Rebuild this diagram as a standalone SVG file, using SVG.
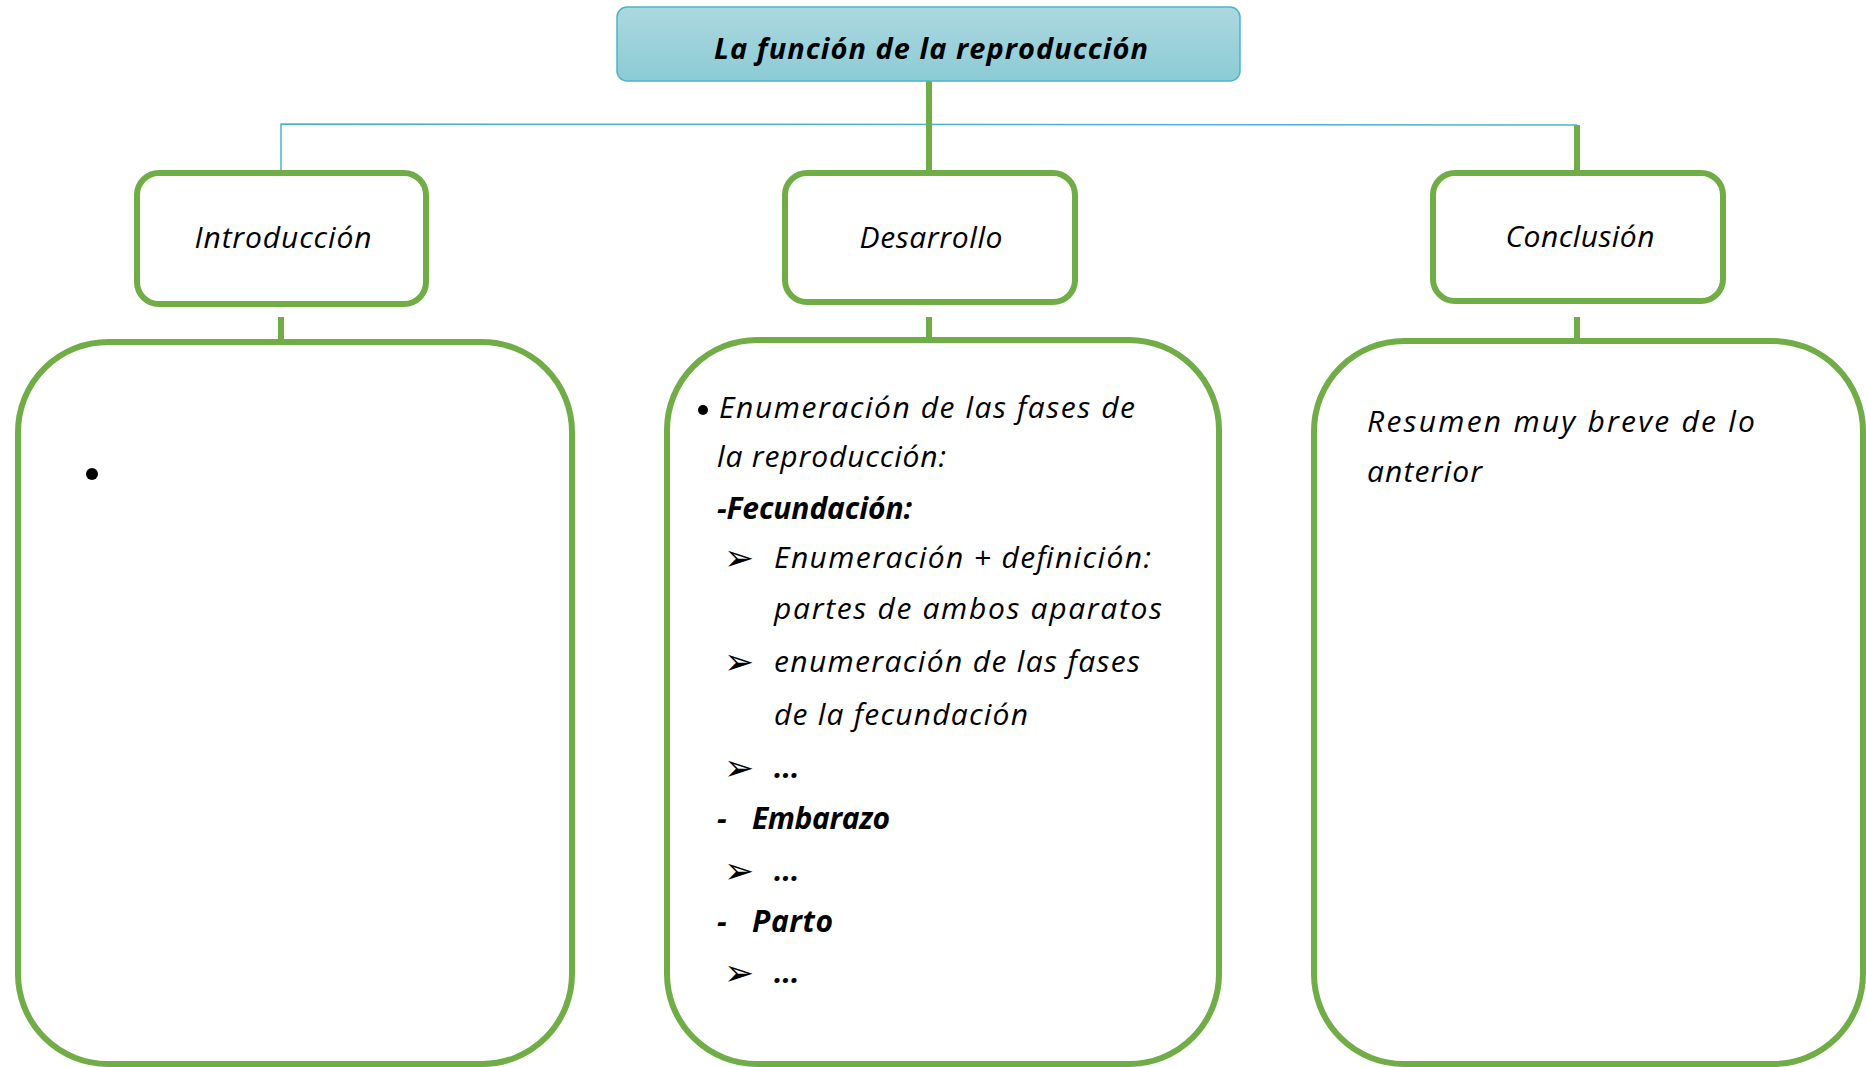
<svg xmlns="http://www.w3.org/2000/svg" width="1866" height="1067" viewBox="0 0 1866 1067">
<defs>
<linearGradient id="tg" x1="0" y1="0" x2="0" y2="1">
<stop offset="0" stop-color="#acd8e0"/>
<stop offset="1" stop-color="#8ccbd5"/>
</linearGradient>
<style>
.box{fill:#ffffff;stroke:#70ad47;stroke-width:6}
.g{stroke:#70ad47;stroke-width:6;fill:none}
.tl{stroke:#4bb5c8;stroke-width:1.5;fill:none}
.t{font-family:"Open Sans","Liberation Sans",sans-serif;font-style:italic;font-size:30px;fill:#000000}
.b{font-weight:bold}
.ar{font-family:"DejaVu Sans",sans-serif;font-size:36px;fill:#000000}
</style>
</defs>
<rect width="1866" height="1067" fill="#ffffff"/>
<g id="connectors">
<polyline class="tl" points="281,177 281,124 1577,125"/>
<line class="g" x1="929" y1="79" x2="929" y2="174"/>
<line class="g" x1="1577" y1="125" x2="1577" y2="176"/>
<line class="g" x1="281" y1="317" x2="281" y2="342"/>
<line class="g" x1="929" y1="317" x2="929" y2="340"/>
<line class="g" x1="1577" y1="317" x2="1577" y2="341"/>
</g>
<g id="title">
<rect x="617" y="7" width="623" height="74" rx="10" fill="url(#tg)" stroke="#4bb5c8" stroke-width="1.5"/>
<text class="t b" x="931" y="59" text-anchor="middle" textLength="434" lengthAdjust="spacing" style="font-size:29px">La función de la reproducción</text>
</g>
<g id="introduccion">
<rect class="box" x="137" y="173" width="289" height="131" rx="22"/>
<text class="t" x="283" y="248" text-anchor="middle" textLength="177" lengthAdjust="spacing">Introducción</text>
</g>
<g id="desarrollo">
<rect class="box" x="785" y="173" width="290" height="129" rx="22"/>
<text class="t" x="931" y="248" text-anchor="middle" textLength="143" lengthAdjust="spacing">Desarrollo</text>
</g>
<g id="conclusion">
<rect class="box" x="1433" y="173" width="290" height="128" rx="22"/>
<text class="t" x="1580" y="247" text-anchor="middle" textLength="149" lengthAdjust="spacing">Conclusión</text>
</g>
<g id="introduccion-contenido">
<rect class="box" x="18" y="342" width="554" height="722" rx="90"/>
<circle cx="92" cy="474" r="6" fill="#000000"/>
</g>
<g id="desarrollo-contenido">
<rect class="box" x="667" y="340" width="552" height="724" rx="90"/>
<circle cx="703" cy="410" r="5" fill="#000000"/>
<text class="t" x="719" y="418" textLength="416" lengthAdjust="spacing">Enumeración de las fases de</text>
<text class="t" x="717" y="467" textLength="229" lengthAdjust="spacing">la reproducción:</text>
<text class="t b" x="717" y="519" textLength="195" lengthAdjust="spacing">-Fecundación:</text>
<text class="ar" x="724" y="570">➢</text>
<text class="t" x="774" y="568" textLength="377" lengthAdjust="spacing">Enumeración + definición:</text>
<text class="t" x="774" y="619" textLength="388" lengthAdjust="spacing">partes de ambos aparatos</text>
<text class="ar" x="724" y="674">➢</text>
<text class="t" x="774" y="672" textLength="366" lengthAdjust="spacing">enumeración de las fases</text>
<text class="t" x="774" y="725" textLength="254" lengthAdjust="spacing">de la fecundación</text>
<text class="ar" x="724" y="780">➢</text>
<text class="t b" x="774" y="778">...</text>
<text class="t b" x="717" y="829">-</text>
<text class="t b" x="752" y="829" textLength="138" lengthAdjust="spacing">Embarazo</text>
<text class="ar" x="724" y="883">➢</text>
<text class="t b" x="774" y="881">...</text>
<text class="t b" x="717" y="932">-</text>
<text class="t b" x="752" y="932" textLength="81" lengthAdjust="spacing">Parto</text>
<text class="ar" x="724" y="985">➢</text>
<text class="t b" x="774" y="983">...</text>
</g>
<g id="conclusion-contenido">
<rect class="box" x="1314" y="341" width="549" height="723" rx="90"/>
<text class="t" x="1367" y="432" textLength="388" lengthAdjust="spacing">Resumen muy breve de lo</text>
<text class="t" x="1367" y="482" textLength="115" lengthAdjust="spacing">anterior</text>
</g>
</svg>
